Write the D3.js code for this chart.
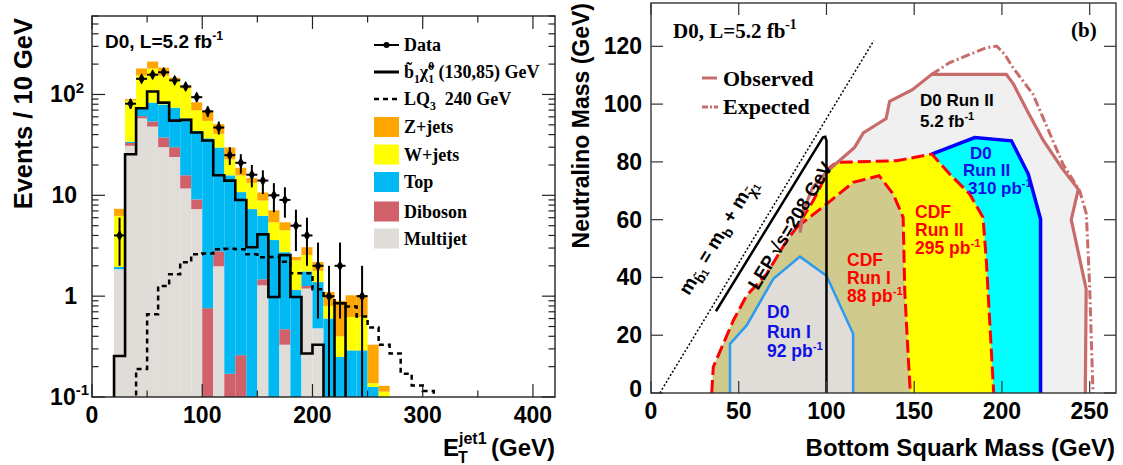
<!DOCTYPE html>
<html><head><meta charset="utf-8">
<script src="https://cdn.jsdelivr.net/npm/d3@7"></script>
<style>body{margin:0;background:#fff}svg{display:block}</style>
</head><body>
<script>
// ---------------- LEFT PANEL DATA ----------------
const binLow   = [20,30,40,50,60,70,80,90,100,110,120,130,140,150,160,170,180,190,200,210,220,230,240,250,260];
const multijet = [1.85,31,58,48,30,24,11.7,7.3,0,1.98,0,0,0,1.28,0,0.33,0,1.19,0.48,0,0,0,0,0,0];
const diboson  = [0,2,3,6,7.5,6,4.1,1.8,0.76,0.8,0.17,0.26,0,0.19,0,0.14,0,0.07,0,0,0,0,0,0,0];
const topQ     = [0.1,1,12,29,42,44,42,34.5,36,27,15.6,10.5,7.3,4.8,3.6,2.26,1.15,0.5,0.9,0.6,0.25,0.29,0.29,0.126,0];
const wjets    = [4.3,53,81,98,74,64,57,26,18,11,7,5,6,2.6,1.8,1.77,1.12,0.8,0.4,0.2,0.15,0.33,0.33,0.011,0.113];
const zjets    = [1.1,3,27,31,31,9,8,14,14,10,7,3,1.5,1.8,1.7,0.9,0.18,0.5,0.4,0.3,0.5,0.4,0.4,0.193,0.016];
const signal   = [0.255,25.5,73,107,83,55,56,42,35,15.8,14,9,3.05,4.1,0.98,2.55,0.98,0.27,0.33,0,0.85,0,0,0,0];
const lqLow    = [20,30,40,50,60,70,80,90,100,110,120,130,140,150,160,170,180,190,200,210,220,230,240,250,260,270,280,290,300];
const lq240    = [0,0,0.19,0.66,1.26,1.65,2.17,2.6,2.65,2.92,2.95,2.92,2.6,2.43,2.45,2.2,1.69,1.69,1.17,0.98,0.85,0.79,0.63,0.49,0.33,0.27,0.17,0.13,0.115];
const dataX    = [25,35,45,55,65,75,85,95,105,115,125,135,145,155,165,175,185,195,205,215,225,245];
const dataY    = [4,81,143,157,166,138,120,94,68,47,25,21,16,14,10,9,5,4,2,1,2,1];
const dataErr  = [2,9,12,12.5,12.9,11.7,11,9.7,8.2,6.9,5,4.6,4,3.7,3.2,3,2.2,2,1.4,1,1.4,1];
const xTicksL  = [0,100,200,300,400];
const legendL  = ["Z+jets","W+jets","Top","Diboson","Multijet"];

// ---------------- RIGHT PANEL DATA (GeV) ----------------
const observed = [[85,55.5],[86.5,62.5],[92,71],[100,76.5],[107.5,80.5],[116,85],[121,90],[134,95],[136,101],[149,105],[160,110.3],[202.5,110.3],[206.5,107],[215,97],[223.5,87.5],[234,78],[243.5,70.5],[239.5,60],[248,36],[247.5,0]];
const expected = [[160,110.3],[170,114.3],[181.6,117.2],[191,119.5],[197,120.1],[201.6,117.2],[206.3,112.6],[217.7,103.4],[223.4,95.3],[234.8,79.2],[244.3,70],[248.1,62],[250,36.6],[251.9,0]];
const d0run2   = [[160,82.7],[184.5,88.4],[205.4,87.3],[215,75.8],[222,60.2],[222,0]];
const cdf2Right= [[160,82.7],[170.2,75.8],[181.6,68.9],[189.2,60.8],[191.1,45.8],[193,25.1],[195.3,0]];
const cdf2Top  = [[105.7,79.8],[140,80.4],[160,82.7]];
const cdfOuter = [[34.6,0],[35.5,9],[46.9,25.1],[54.5,33.7],[65.9,41.2],[77.3,52.7],[83,57.3],[92.5,66.6],[102,78.1],[105.7,79.8]];
const cdf1Inner= [[83,57.3],[100,65.4],[115.2,72.9],[130,75.2],[138,68.9],[143.7,60.8],[144.6,35.5],[146.5,13.6],[147.8,0]];
const d0run1   = [[45,0],[45,17],[54.5,23.4],[69.7,39.5],[84.9,47.2],[100,40.6],[115.2,20.5],[115.2,0]];
const lepLine  = [[37,28.3],[98,88.5],[99.3,88.7],[100,87.3],[100,0]];
const kinLimit = [[5,0],[127,122]];
const xTicksR  = [0,50,100,150,200,250];
const yTicksR  = [0,20,40,60,80,100,120];

// ---------------- SETUP ----------------
const SANS = "'Liberation Sans', Arial, Helvetica, sans-serif";
const SERIF = "'Liberation Serif', 'Times New Roman', serif";
const svg = d3.select("body").append("svg").attr("width",1123).attr("height",465);

function rich(g, x, y, parts, o) {
  const outer = g.append("g").attr("transform", `translate(${x},${y}) rotate(${o.rotate||0})`);
  const inner = outer.append("g");
  let cx = 0, stackW = 0;
  parts.forEach(p => {
    const s = typeof p === "string" ? {t:p} : p;
    const fs = o.size * (s.scale || ((s.sup||s.sub) ? 0.65 : 1));
    const dy = s.sup ? -o.size*0.42 : s.sub ? o.size*0.28 : 0;
    const t = inner.append("text").attr("x", cx).attr("y", dy).text(s.t)
      .attr("font-size", fs).attr("font-family", o.family||SANS)
      .attr("font-weight", o.weight||"bold").attr("fill", o.fill||"#000")
      .style("white-space","pre");
    const w = t.node().getComputedTextLength();
    if (s.stack) { stackW = w; } else { cx += Math.max(w, stackW); stackW = 0; }
  });
  let sh = 0;
  if (o.anchor === "middle") sh = -cx/2; else if (o.anchor === "end") sh = -cx;
  inner.attr("transform", `translate(${sh},0)`);
  return outer;
}

// ================= LEFT PANEL =================
const xL = d3.scaleLinear().domain([0,420]).range([92,555]);
const yL = d3.scaleLog().domain([0.1,600]).range([397,16]);
const fy = v => yL(Math.max(v, 0.05));
const L = svg.append("g");
L.append("clipPath").attr("id","clipL").append("rect")
  .attr("x",92).attr("y",16).attr("width",463).attr("height",381);
const plotL = L.append("g").attr("clip-path","url(#clipL)");

const comps = [
  {vals:multijet, color:"#e0dcd8"},
  {vals:diboson,  color:"#d0606a"},
  {vals:topQ,     color:"#00b9f2"},
  {vals:wjets,    color:"#ffff00"},
  {vals:zjets,    color:"#ffa500"}
];
binLow.forEach((lo,i) => {
  let cum = 0;
  comps.forEach(c => {
    const v = c.vals[i];
    if (v > 0) {
      const y0 = fy(cum); cum += v; const y1 = fy(cum);
      plotL.append("rect").attr("x", xL(lo)).attr("width", xL(lo+10)-xL(lo))
        .attr("y", y1).attr("height", Math.max(0, y0-y1)).attr("fill", c.color);
    }
  });
});

function histPts(lows, vals) {
  const pts = [[lows[0], 0.05]];
  lows.forEach((lo,i) => { pts.push([lo, vals[i]||0.05]); pts.push([lo+10, vals[i]||0.05]); });
  pts.push([lows[lows.length-1]+10, 0.05]);
  return pts;
}
const hl = d3.line().x(d => xL(d[0])).y(d => fy(d[1]));
plotL.append("path").attr("d", hl(histPts(lqLow, lq240))).attr("fill","none")
  .attr("stroke","#000").attr("stroke-width",2.5).attr("stroke-dasharray","5,4");
plotL.append("path").attr("d", hl(histPts(binLow, signal))).attr("fill","none")
  .attr("stroke","#000").attr("stroke-width",2.6);

// data
dataX.forEach((x,i) => {
  const v = dataY[i], e = dataErr[i];
  plotL.append("line").attr("x1", xL(x)).attr("x2", xL(x))
    .attr("y1", fy(v+e)).attr("y2", fy(v-e)).attr("stroke","#000").attr("stroke-width",2);
  plotL.append("line").attr("x1", xL(x-5)).attr("x2", xL(x+5))
    .attr("y1", yL(v)).attr("y2", yL(v)).attr("stroke","#000").attr("stroke-width",2);
  plotL.append("path").attr("transform", `translate(${xL(x)},${yL(v)})`)
    .attr("d", d3.symbol().type(d3.symbolDiamond).size(36)()).attr("fill","#000");
});

// frame & ticks
L.append("rect").attr("x",92).attr("y",16).attr("width",463).attr("height",381)
  .attr("fill","none").attr("stroke","#222").attr("stroke-width",1.4);
const tk = L.append("g").attr("stroke","#222").attr("stroke-width",1.2);
for (let v = 0; v <= 420; v += 50) {
  const len = (v % 100 === 0) ? 13 : 6.5;
  tk.append("line").attr("x1",xL(v)).attr("x2",xL(v)).attr("y1",397).attr("y2",397-len);
  tk.append("line").attr("x1",xL(v)).attr("x2",xL(v)).attr("y1",16).attr("y2",16+len);
}
[0.1,1,10,100].forEach(dec => {
  for (let m = 1; m <= 9; m++) {
    const v = dec*m; if (v > 600) continue;
    const len = m === 1 ? 13 : 6.5;
    tk.append("line").attr("x1",92).attr("x2",92+len).attr("y1",yL(v)).attr("y2",yL(v));
    tk.append("line").attr("x1",555).attr("x2",555-len).attr("y1",yL(v)).attr("y2",yL(v));
  }
});
xTicksL.forEach(v => {
  L.append("text").attr("x", xL(v)).attr("y", 423).attr("text-anchor","middle")
    .attr("font-family",SANS).attr("font-weight","bold").attr("font-size",23).text(v);
});
rich(L, 89, yL(0.1)+8, ["10",{t:"-1",sup:true}], {size:23, anchor:"end"});
rich(L, 77, yL(1)+8, ["1"], {size:23, anchor:"end"});
rich(L, 77, yL(10)+8, ["10"], {size:23, anchor:"end"});
rich(L, 84, yL(100)+8, ["10",{t:"2",sup:true}], {size:23, anchor:"end"});
rich(L, 32, 18, ["Events / 10 GeV"], {size:25.5, anchor:"end", rotate:-90});
// x title
L.append("text").attr("x",443).attr("y",456).attr("font-family",SANS).attr("font-weight","bold").attr("font-size",24).text("E");
L.append("text").attr("x",459).attr("y",444).attr("font-family",SANS).attr("font-weight","bold").attr("font-size",16).text("jet1");
L.append("text").attr("x",458).attr("y",463).attr("font-family",SANS).attr("font-weight","bold").attr("font-size",16).text("T");
L.append("text").attr("x",555).attr("y",456).attr("text-anchor","end").attr("font-family",SANS).attr("font-weight","bold").attr("font-size",24).text("(GeV)");
rich(L, 105, 48, ["D0, L=5.2 fb",{t:"-1",sup:true}], {size:19});

// legend
const lg = L.append("g");
lg.append("line").attr("x1",374).attr("x2",399).attr("y1",45).attr("y2",45).attr("stroke","#000").attr("stroke-width",2);
lg.append("circle").attr("cx",386.5).attr("cy",45).attr("r",3).attr("fill","#000");
rich(lg, 404, 51, ["Data"], {size:18, family:SERIF});
lg.append("line").attr("x1",374).attr("x2",399).attr("y1",72).attr("y2",72).attr("stroke","#000").attr("stroke-width",3);
rich(lg, 404, 78, ["b\u0303",{t:"1",sub:true},"\u03C7\u0303",{t:"0",sup:true,stack:true},{t:"1",sub:true}," (130,85) GeV"], {size:18, family:SERIF});
lg.append("line").attr("x1",374).attr("x2",399).attr("y1",99).attr("y2",99).attr("stroke","#000").attr("stroke-width",2.5).attr("stroke-dasharray","5,4");
rich(lg, 404, 105, ["LQ",{t:"3",sub:true},"  240 GeV"], {size:18, family:SERIF});
const legY = [127,154.5,182,211.5,238.5];
const legC = ["#ffa500","#ffff00","#00b9f2","#d0606a","#e0dcd8"];
legendL.forEach((n,i) => {
  lg.append("rect").attr("x",374).attr("y",legY[i]-10).attr("width",25).attr("height",20).attr("fill",legC[i]);
  rich(lg, 404, legY[i]+6, [n], {size:18, family:SERIF});
});

// ================= RIGHT PANEL =================
const xR = d3.scaleLinear().domain([0,265]).range([651,1116]);
const yR = d3.scaleLinear().domain([0,135]).range([393,3]);
const R = svg.append("g");
R.append("clipPath").attr("id","clipR").append("rect")
  .attr("x",651).attr("y",3).attr("width",465).attr("height",390);
const plotR = R.append("g").attr("clip-path","url(#clipR)");
const ln = d3.line().x(d => xR(d[0])).y(d => yR(d[1]));

const obsFill = observed.concat([[34.6,0],[77.3,52.7]]);
plotR.append("path").attr("d", ln(obsFill)+"Z").attr("fill","#f0f0f0");
plotR.append("path").attr("d", ln(d0run2.concat(cdf2Right.slice().reverse()))+"Z").attr("fill","#00ffff");
plotR.append("path").attr("d", ln(cdfOuter.concat(cdf2Top.slice(1), cdf2Right.slice(1)))+"Z").attr("fill","#ffff00");
plotR.append("path").attr("d", ln(cdfOuter.slice(0,7).concat(cdf1Inner.slice(1)))+"Z").attr("fill","#d0cb8c");
plotR.append("path").attr("d", ln(d0run1)+"Z").attr("fill","#e0dcd8");
plotR.append("path").attr("d", ln(d0run1)).attr("fill","none").attr("stroke","#2b9af0").attr("stroke-width",2.5);
plotR.append("path").attr("d", ln(d0run2)).attr("fill","none").attr("stroke","#0000ff").attr("stroke-width",3.5);
plotR.append("path").attr("d", ln(cdfOuter.concat(cdf2Top.slice(1), cdf2Right.slice(1)))).attr("fill","none")
  .attr("stroke","#ff0000").attr("stroke-width",3).attr("stroke-dasharray","13,5");
plotR.append("path").attr("d", ln(cdf1Inner)).attr("fill","none")
  .attr("stroke","#ff0000").attr("stroke-width",3).attr("stroke-dasharray","13,5");
plotR.append("path").attr("d", ln(observed)).attr("fill","none").attr("stroke","#c76b6b").attr("stroke-width",3.2);
plotR.append("path").attr("d", ln(expected)).attr("fill","none").attr("stroke","#c76b6b").attr("stroke-width",3)
  .attr("stroke-dasharray","9,3,2,3");
plotR.append("path").attr("d", ln(lepLine)).attr("fill","none").attr("stroke","#000").attr("stroke-width",2.5);
plotR.append("path").attr("d", ln(kinLimit)).attr("fill","none").attr("stroke","#000").attr("stroke-width",1.5).attr("stroke-dasharray","2,2");

// frame & ticks
R.append("rect").attr("x",651).attr("y",3).attr("width",465).attr("height",390)
  .attr("fill","none").attr("stroke","#333").attr("stroke-width",1.4);
const tr = R.append("g").attr("stroke","#333").attr("stroke-width",1.2);
xTicksR.forEach(v => {
  tr.append("line").attr("x1",xR(v)).attr("x2",xR(v)).attr("y1",393).attr("y2",381);
  tr.append("line").attr("x1",xR(v)).attr("x2",xR(v)).attr("y1",3).attr("y2",15);
  R.append("text").attr("x", xR(v)).attr("y", 419).attr("text-anchor","middle")
    .attr("font-family",SANS).attr("font-weight","bold").attr("font-size",23).text(v);
});
yTicksR.forEach(v => {
  tr.append("line").attr("x1",651).attr("x2",663).attr("y1",yR(v)).attr("y2",yR(v));
  tr.append("line").attr("x1",1116).attr("x2",1104).attr("y1",yR(v)).attr("y2",yR(v));
  R.append("text").attr("x", 642).attr("y", yR(v)+8 - (v===0?4:0)).attr("text-anchor","end")
    .attr("font-family",SANS).attr("font-weight","bold").attr("font-size",23).text(v);
});
rich(R, 1115, 456, ["Bottom Squark Mass (GeV)"], {size:24, anchor:"end"});
rich(R, 589, 3, ["Neutralino Mass (GeV)"], {size:23, anchor:"end", rotate:-90});

// texts
rich(R, 673, 38, ["D0, L=5.2 fb",{t:"-1",sup:true}], {size:21, family:SERIF});
rich(R, 1071, 37, ["(b)"], {size:21, family:SERIF});
R.append("line").attr("x1",702).attr("x2",717).attr("y1",78).attr("y2",78).attr("stroke","#c76b6b").attr("stroke-width",3);
rich(R, 723, 86, ["Observed"], {size:22, family:SERIF});
R.append("line").attr("x1",702).attr("x2",718).attr("y1",107).attr("y2",107).attr("stroke","#c76b6b").attr("stroke-width",3).attr("stroke-dasharray","6,2,2,2");
rich(R, 723, 114, ["Expected"], {size:22, family:SERIF});

rich(R, 920, 106, ["D0 Run II"], {size:17});
rich(R, 920, 127, ["5.2 fb",{t:"-1",sup:true}], {size:17});
rich(R, 970, 159, ["D0"], {size:17, fill:"#1010e6"});
rich(R, 963, 176, ["Run II"], {size:17, fill:"#1010e6"});
rich(R, 968, 194, ["310 pb",{t:"-1",sup:true}], {size:17, fill:"#1010e6"});
rich(R, 915, 218, ["CDF"], {size:17.5, fill:"#ff0000"});
rich(R, 915, 236, ["Run II"], {size:17.5, fill:"#ff0000"});
rich(R, 915, 254, ["295 pb",{t:"-1",sup:true}], {size:17.5, fill:"#ff0000"});
rich(R, 847, 266, ["CDF"], {size:17.5, fill:"#ff0000"});
rich(R, 847, 284, ["Run I"], {size:17.5, fill:"#ff0000"});
rich(R, 847, 302, ["88 pb",{t:"-1",sup:true}], {size:17.5, fill:"#ff0000"});
rich(R, 767, 318, ["D0"], {size:17.5, fill:"#1010e6"});
rich(R, 767, 338, ["Run I"], {size:17.5, fill:"#1010e6"});
rich(R, 767, 357, ["92 pb",{t:"-1",sup:true}], {size:17.5, fill:"#1010e6"});

rich(R, 795.5, 229, ["LEP \u221A",{t:"s",scale:1},"=208 GeV"], {size:18.5, anchor:"middle", rotate:-58.8});
rich(R, 723, 240, ["m",{t:"b\u0303",sub:true,scale:0.75},{t:"1",sub:true,scale:0.55}," = m",{t:"b",sub:true,scale:0.75}," + m",{t:"\u03C7\u0303",sub:true,scale:0.75},{t:"1",sub:true,scale:0.55}], {size:19, anchor:"middle", rotate:-58.8});
</script>
</body></html>
